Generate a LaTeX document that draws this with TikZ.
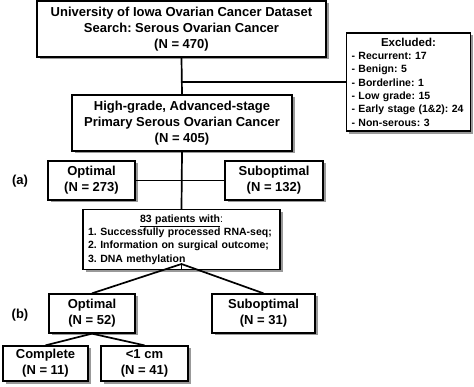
\documentclass[tikz,border=0pt]{standalone}
\usepackage{fontspec}
\setmainfont{Liberation Sans}
\frenchspacing
\usetikzlibrary{shadows}

\begin{document}
\begin{tikzpicture}[
x=1pt,
y=-1pt,
every node/.style={font=\bfseries\fontsize{13}{16}\selectfont},
mainbox/.style={rectangle,draw,line width=1.3pt,fill=white,align=center,inner sep=2pt,
  drop shadow={shadow xshift=2.5pt,shadow yshift=-2.5pt,fill=black!40,opacity=1}},
listbox/.style={mainbox,align=left,inner sep=5pt,font=\bfseries\fontsize{10.5}{13.3}\selectfont},
link/.style={line width=1.7pt},
lbl/.style={font=\bfseries\fontsize{13}{16}\selectfont,inner sep=0pt}
]
\useasboundingbox (0,0) rectangle (474,387);
\node[mainbox,minimum width=289pt,minimum height=56pt] (search) at (181.5,29) {University of Iowa Ovarian Cancer Dataset\\Search: Serous Ovarian Cancer\\(N = 470)};
\node[listbox,minimum width=123pt,minimum height=98pt,text width=114pt] (excl) at (408.5,82) {\makebox[\linewidth][c]{\fontsize{11.5}{13.3}\selectfont Excluded:}\\- Recurrent: 17\\- Benign: 5\\- Borderline: 1\\- Low grade: 15\\- Early stage (1\&2): 24\\- Non-serous: 3};
\node[mainbox,minimum width=220pt,minimum height=56pt] (hgrade) at (182,123) {High-grade, Advanced-stage\\Primary Serous Ovarian Cancer\\(N = 405)};
\node[mainbox,minimum width=87pt,minimum height=39pt] (opta) at (91.5,180.5) {Optimal\\(N = 273)};
\node[mainbox,minimum width=98pt,minimum height=39pt] (subopta) at (274,180.5) {Suboptimal\\(N = 132)};
\node[lbl] (labela) at (20,181) {(a)};
\node[listbox,minimum width=197pt,minimum height=59pt,text width=187pt,inner sep=5pt] (pat83) at (181.5,239.5) {\makebox[\linewidth][c]{\underline{83 patients with}\textmd{:}}\\1. Successfully processed RNA-seq;\\2. Information on surgical outcome;\\3. DNA methylation};
\node[mainbox,minimum width=86pt,minimum height=39pt] (optb) at (92,313.5) {Optimal\\(N = 52)};
\node[mainbox,minimum width=103pt,minimum height=39pt] (suboptb) at (263.5,313.5) {Suboptimal\\(N = 31)};
\node[lbl] (labelb) at (20,315) {(b)};
\node[mainbox,minimum width=85pt,minimum height=35pt] (complete) at (45.5,363.5) {Complete\\(N = 11)};
\node[mainbox,minimum width=87pt,minimum height=35pt] (lt1) at (144.5,363.5) {<1 cm\\(N = 41)};

\draw[link] (search.south) -- (hgrade.north);
\draw[link] (search.south |- excl.west) -- (excl.west);
\draw[link] (hgrade.south) -- (pat83.north);
\draw[link] (opta.east) -- (subopta.west);
\coordinate (split) at ([yshift=6pt]pat83.south);
\draw[link] (pat83.south) -- (split);
\draw[link] (optb.north) -- (split) -- (suboptb.north);
\draw[link] (complete.north) -- (optb.south) -- (lt1.north);
\end{tikzpicture}
\end{document}
